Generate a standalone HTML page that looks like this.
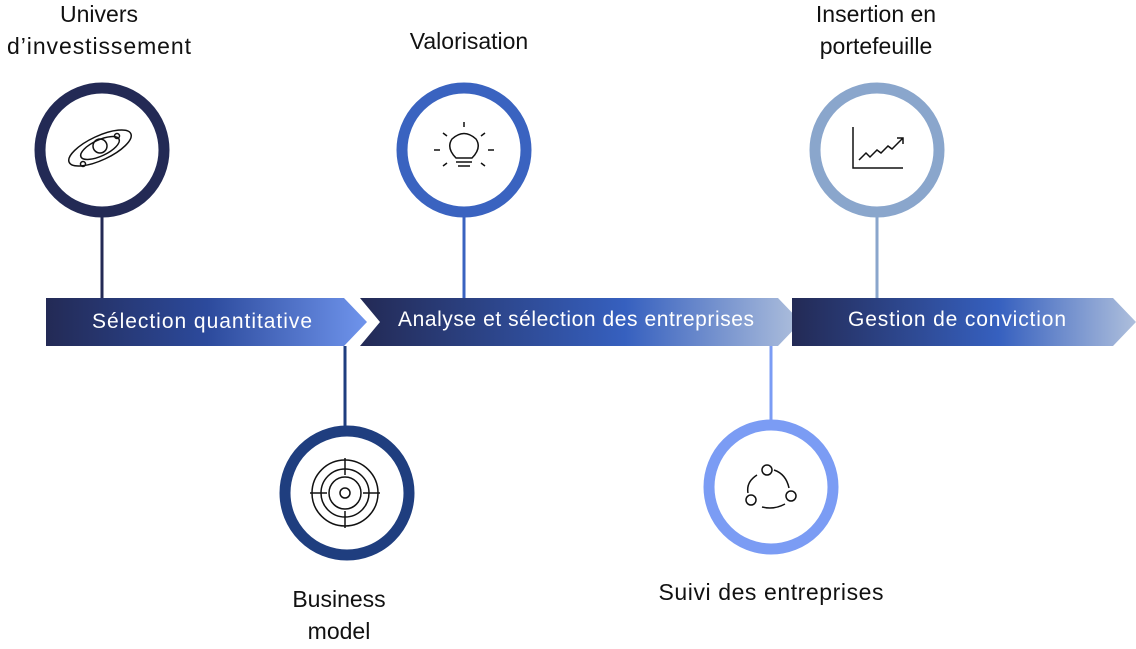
<!DOCTYPE html>
<html><head><meta charset="utf-8"><style>
html,body{margin:0;padding:0;background:#fff;}
svg{display:block;font-family:"Liberation Sans",sans-serif;}
</style></head><body>
<svg width="1136" height="649" viewBox="0 0 1136 649" xmlns="http://www.w3.org/2000/svg">
<defs>
<linearGradient id="g1" x1="0" x2="1"><stop offset="0" stop-color="#232a55"/><stop offset="0.5" stop-color="#2c4a9c"/><stop offset="1" stop-color="#6f94ec"/></linearGradient>
<linearGradient id="g2" x1="0" x2="1"><stop offset="0" stop-color="#232a55"/><stop offset="0.6" stop-color="#3660bf"/><stop offset="1" stop-color="#aebfdc"/></linearGradient>
</defs>
<g stroke-width="3">
<line x1="102" y1="212" x2="102" y2="298" stroke="#232a55"/>
<line x1="464" y1="212" x2="464" y2="298" stroke="#3a63c0"/>
<line x1="877" y1="212" x2="877" y2="298" stroke="#8aa6cc"/>
<line x1="345" y1="346" x2="345" y2="430" stroke="#1f3e7f"/>
<line x1="771" y1="346" x2="771" y2="424" stroke="#7b9cf4"/>
</g>
<polygon points="46,298 344,298 367,322 344,346 46,346" fill="url(#g1)"/>
<polygon points="360,298 778,298 801,322 778,346 360,346 380,322" fill="url(#g2)"/>
<polygon points="792,298 1113,298 1136,322 1113,346 792,346" fill="url(#g2)"/>
<g fill="#fff" font-size="21">
<text x="202" y="328" text-anchor="middle" textLength="220">Sélection quantitative</text>
<text x="576" y="326" text-anchor="middle" textLength="356">Analyse et sélection des entreprises</text>
<text x="957" y="326" text-anchor="middle" textLength="218">Gestion de conviction</text>
</g>
<g fill="#fff" stroke-width="11">
<circle cx="102" cy="150" r="62" stroke="#232a55"/>
<circle cx="464" cy="150" r="62" stroke="#3a63c0"/>
<circle cx="877" cy="150" r="62" stroke="#8aa6cc"/>
<circle cx="347" cy="493" r="62" stroke="#1f3e7f"/>
<circle cx="771" cy="487" r="62" stroke="#7b9cf4"/>
</g>
<g fill="none" stroke="#111" stroke-width="1.5">
<ellipse cx="100" cy="148" rx="34" ry="12" transform="rotate(-25 100 148)"/>
<ellipse cx="100" cy="148" rx="21" ry="8" transform="rotate(-25 100 148)"/>
<circle cx="100" cy="146" r="7"/>
<circle cx="117" cy="136" r="2.5"/><circle cx="83" cy="164" r="2.5"/>
<path d="M456,158 Q446,148 452,139 Q464,128 476,139 Q482,148 472,158 Z"/>
<path d="M456,162 H472 M458,166 H470"/>
<path d="M464,122 V127 M434,150 H440 M488,150 H494 M443,133 L447,136 M485,133 L481,136 M443,166 L447,163 M485,166 L481,163"/>
<path d="M853,127 V168 H903 M859,160 L866,153 L870,157 L877,150 L881,153 L888,146 L892,149 L903,138 M897,138 H903 V144"/>
<circle cx="345" cy="493" r="33"/><circle cx="345" cy="493" r="24"/><circle cx="345" cy="493" r="16"/><circle cx="345" cy="493" r="5"/>
<path d="M345,458 V475 M345,511 V528 M310,493 H327 M363,493 H380"/>
<circle cx="767" cy="470" r="5"/><circle cx="791" cy="496" r="5"/><circle cx="751" cy="500" r="5"/>
<path d="M774,470 Q786,474 789,488 M785,504 Q774,510 762,507 M748,493 Q746,482 757,475"/>
</g>
<g fill="#111" font-size="23" text-anchor="middle">
<text x="99" y="22">Univers</text>
<text x="99" y="54" textLength="184">d’investissement</text>
<text x="469" y="49">Valorisation</text>
<text x="876" y="22">Insertion en</text>
<text x="876" y="54">portefeuille</text>
<text x="339" y="607">Business</text>
<text x="339" y="639">model</text>
<text x="771" y="600" textLength="225">Suivi des entreprises</text>
</g>
</svg>
</body></html>
